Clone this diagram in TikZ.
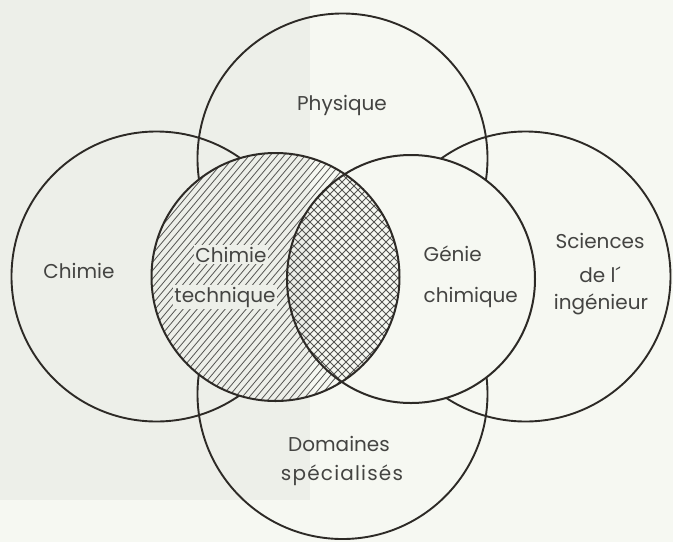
\documentclass[tikz,border=0pt]{standalone}
\usepackage{fontspec}
\setmainfont{Poppins}
\definecolor{bgL}{RGB}{237,239,233}
\definecolor{bgR}{RGB}{246,248,242}
\definecolor{ink}{RGB}{45,42,38}
\definecolor{txt}{RGB}{68,68,66}
\definecolor{hatchc}{RGB}{85,85,82}
\newcommand\paintbg{\fill[bgR] (0,0) rectangle (673,542); \fill[bgL] (0,0) rectangle (310,500);}
\begin{document}
\begin{tikzpicture}[x=1pt,y=-1pt,
  bigc/.style={circle,draw=ink,line width=1.9pt,minimum size=290pt,inner sep=0pt},
  smallc/.style={circle,draw=ink,line width=2pt,minimum size=248pt,inner sep=0pt},
  lbl/.style={text=txt,font=\fontsize{20}{24}\selectfont,anchor=base,inner sep=1.5pt},
  hatch/.style={draw=hatchc,line width=0.8pt}]
\paintbg
\useasboundingbox (0,0) rectangle (673,542);
% big circles
\node[bigc] (phys) at (342.5,158.5) {};
\node[bigc] (dom)  at (342.5,394) {};
\node[bigc] (chim) at (156.5,276.5) {};
\node[bigc] (sci)  at (525.5,276.5) {};
% inner circles: erase background
\begin{scope}\clip (275.5,277) circle (124pt); \paintbg \end{scope}
\begin{scope}\clip (411,279) circle (124pt); \paintbg \end{scope}
% single hatching in chimie technique
\begin{scope}
  \clip (275.5,277) circle (124pt);
  \foreach \x in {-120,-113,...,420} \draw[hatch] (\x,420) -- ++(252,-300);
\end{scope}
% crosshatching in intersection
\begin{scope}
  \clip (275.5,277) circle (124pt);
  \clip (411,279) circle (124pt);
  \paintbg
  \foreach \x in {-40,-32,...,440} {
    \draw[hatch] (\x,420) -- ++(300,-300);
    \draw[hatch] (\x,120) -- ++(300,300);
  }
\end{scope}
\node[smallc] (tech) at (275.5,277) {};
\node[smallc] (gen)  at (411,279) {};
% labels
\node[lbl] (lphys) at (342,110) {Physique};
\node[lbl] (lchim) at (79,278) {Chimie};
\node[lbl,fill=bgL] (lct1) at (231,262) {Chimie};
\node[lbl,fill=bgL] (lct2) at (225,302) {technique};
\node[lbl,anchor=base west] (lgc1) at (422,261) {Génie};
\node[lbl,anchor=base west] (lgc2) at (422,302) {chimique};
\node[lbl] (ls1) at (600,248) {Sciences};
\node[lbl] (ls2) at (600,282) {de l´};
\node[lbl] (ls3) at (601,309) {ingénieur};
\node[lbl] (ld1) at (339,451) {Domaines};
\node[lbl,font=\fontsize{20}{24}\selectfont\addfontfeatures{LetterSpace=6}] (ld2) at (342,480) {spécialisés};
\end{tikzpicture}
\end{document}
